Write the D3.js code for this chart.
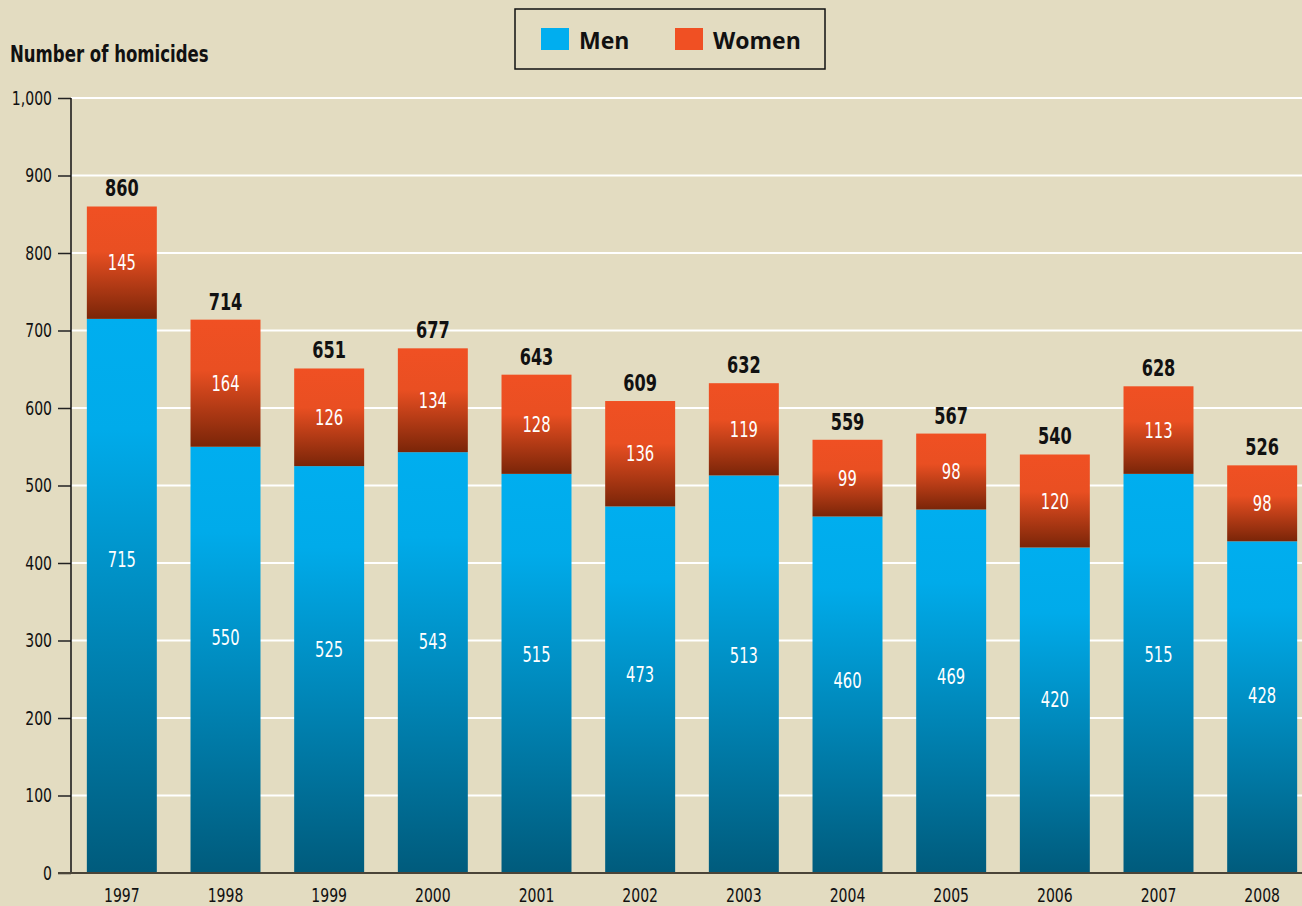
<!DOCTYPE html>
<html>
<head>
  <meta charset="UTF-8" />
  <script src="https://d3js.org/d3.v7.min.js"></script>
  <style>
    body {
      margin: 0;
      background: #e3dcc1;
    }
    text {
      font-family: "Liberation Sans Narrow", "DejaVu Sans Condensed", sans-serif;
    }
    /* police plus etroite, facon Myriad condensed */
    text.cond {
      transform-box: fill-box;
      transform-origin: center;
      transform: scaleX(0.78);
    }
    text.cond-right {
      transform-box: fill-box;
      transform-origin: right center;
      transform: scaleX(0.78);
    }
    text.cond-left {
      transform-box: fill-box;
      transform-origin: left center;
      transform: scaleX(0.8);
    }
  </style>
</head>
<body>
  <script>
    // data
    var years = ["1997", "1998", "1999", "2000", "2001", "2002", "2003", "2004", "2005", "2006", "2007", "2008"];
    var men = [715, 550, 525, 543, 515, 473, 513, 460, 469, 420, 515, 428];
    var women = [145, 164, 126, 134, 128, 136, 119, 99, 98, 120, 113, 98];
    var totals = [860, 714, 651, 677, 643, 609, 632, 559, 567, 540, 628, 526];
    var yTicks = [0, 100, 200, 300, 400, 500, 600, 700, 800, 900, 1000];

    var width = 1302,
      height = 906;

    var svg = d3
      .select("body")
      .append("svg")
      .attr("width", width)
      .attr("height", height);

    var defs = svg.append("defs");

    // degrades des barres
    var gMen = defs.append("linearGradient")
      .attr("id", "gradMen")
      .attr("x1", 0).attr("y1", 0).attr("x2", 0).attr("y2", 1);
    gMen.append("stop").attr("offset", "0").attr("stop-color", "#00aeef");
    gMen.append("stop").attr("offset", "0.2").attr("stop-color", "#00abea");
    gMen.append("stop").attr("offset", "1").attr("stop-color", "#005b7c");

    var gWomen = defs.append("linearGradient")
      .attr("id", "gradWomen")
      .attr("x1", 0).attr("y1", 0).attr("x2", 0).attr("y2", 1);
    gWomen.append("stop").attr("offset", "0").attr("stop-color", "#f05023");
    gWomen.append("stop").attr("offset", "0.4").attr("stop-color", "#e94f22");
    gWomen.append("stop").attr("offset", "1").attr("stop-color", "#7a2508");

    var x = d3.scaleBand()
      .domain(years)
      .range([70, 1314])
      .paddingInner(0.325)
      .paddingOuter(0.1625);

    var y = d3.scaleLinear().domain([0, 1000]).range([873, 98]);

    // grille
    svg.append("g")
      .selectAll("line")
      .data(yTicks.filter(function (d) { return d > 0; }))
      .enter()
      .append("line")
      .attr("x1", 71)
      .attr("x2", width)
      .attr("y1", function (d) { return y(d); })
      .attr("y2", function (d) { return y(d); })
      .style("stroke", "#ffffff")
      .style("stroke-width", 2);

    // axe Y
    var yAxis = svg.append("g")
      .attr("transform", "translate(71,0)")
      .call(d3.axisLeft(y).tickValues(yTicks).tickSize(13).tickPadding(6).tickFormat(d3.format(",")));
    yAxis.select(".domain").remove();
    yAxis.selectAll(".tick line").style("stroke", "#222").style("stroke-width", 1.5);
    yAxis.selectAll("text")
      .attr("class", "cond-right")
      .style("font-size", "20px")
      .style("fill", "#111")
      .style("font-family", "'Liberation Sans Narrow', 'DejaVu Sans Condensed', sans-serif");

    svg.append("line")
      .attr("x1", 71).attr("x2", 71)
      .attr("y1", y(1000)).attr("y2", y(0))
      .style("stroke", "#111")
      .style("stroke-width", 1.5);

    // barres
    var bars = svg.append("g")
      .selectAll("g")
      .data(years)
      .enter()
      .append("g");

    bars.append("rect")
      .attr("x", function (d) { return x(d); })
      .attr("width", x.bandwidth())
      .attr("y", function (d, i) { return y(men[i]); })
      .attr("height", function (d, i) { return y(0) - y(men[i]); })
      .style("fill", "url(#gradMen)");

    bars.append("rect")
      .attr("x", function (d) { return x(d); })
      .attr("width", x.bandwidth())
      .attr("y", function (d, i) { return y(men[i] + women[i]); })
      .attr("height", function (d, i) { return y(men[i]) - y(men[i] + women[i]); })
      .style("fill", "url(#gradWomen)");

    bars.append("text")
      .attr("class", "cond")
      .attr("x", function (d) { return x(d) + x.bandwidth() / 2; })
      .attr("y", function (d, i) { return y(men[i] * 0.61 - 32); })
      .attr("dy", "0.36em")
      .attr("text-anchor", "middle")
      .style("font-size", "21px")
      .style("fill", "#ffffff")
      .text(function (d, i) { return men[i]; });

    bars.append("text")
      .attr("class", "cond")
      .attr("x", function (d) { return x(d) + x.bandwidth() / 2; })
      .attr("y", function (d, i) { return y(men[i] + women[i] / 2); })
      .attr("dy", "0.36em")
      .attr("text-anchor", "middle")
      .style("font-size", "21px")
      .style("fill", "#ffffff")
      .text(function (d, i) { return women[i]; });

    bars.append("text")
      .attr("class", "cond")
      .attr("x", function (d) { return x(d) + x.bandwidth() / 2; })
      .attr("y", function (d, i) { return y(totals[i]) - 10; })
      .attr("text-anchor", "middle")
      .style("font-size", "23px")
      .style("font-weight", "bold")
      .style("fill", "#111")
      .text(function (d, i) { return totals[i]; });

    // axe X
    var xAxis = svg.append("g")
      .attr("transform", "translate(0,873)")
      .call(d3.axisBottom(x).tickSize(0).tickPadding(15));
    xAxis.select(".domain").remove();
    xAxis.selectAll("text")
      .attr("class", "cond")
      .style("font-size", "20px")
      .style("fill", "#111")
      .style("font-family", "'Liberation Sans Narrow', 'DejaVu Sans Condensed', sans-serif");

    svg.append("line")
      .attr("x1", 58).attr("x2", width)
      .attr("y1", y(0)).attr("y2", y(0))
      .style("stroke", "#4a4438")
      .style("stroke-width", 2);

    // titre axe
    svg.append("text")
      .attr("class", "cond-left")
      .attr("x", 10)
      .attr("y", 62)
      .style("font-size", "23px")
      .style("font-weight", "bold")
      .style("fill", "#111")
      .text("Number of homicides");

    // legende
    var legend = svg.append("g");
    legend.append("rect")
      .attr("x", 515).attr("y", 9)
      .attr("width", 310).attr("height", 60)
      .style("fill", "none")
      .style("stroke", "#111")
      .style("stroke-width", 1.5);

    var legendItems = [
      { label: "Men", color: "#00aeef", x: 541 },
      { label: "Women", color: "#f05023", x: 675 }
    ];
    legend.selectAll("rect.sw")
      .data(legendItems)
      .enter()
      .append("rect")
      .attr("class", "sw")
      .attr("x", function (d) { return d.x; })
      .attr("y", 28)
      .attr("width", 28)
      .attr("height", 22)
      .style("fill", function (d) { return d.color; });
    legend.selectAll("text")
      .data(legendItems)
      .enter()
      .append("text")
      .attr("x", function (d) { return d.x + 38; })
      .attr("y", 49)
      .style("font-family", "'Open Sans', sans-serif")
      .style("font-size", "23px")
      .style("font-weight", "bold")
      .style("fill", "#111")
      .text(function (d) { return d.label; });
  </script>
</body>
</html>
